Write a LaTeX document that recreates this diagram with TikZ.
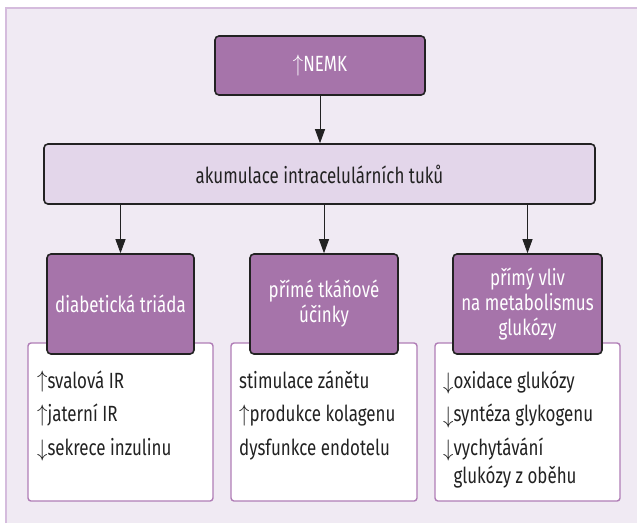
\documentclass[tikz,border=0pt]{standalone}
\usepackage{fontspec}
\setmainfont{Fira Sans}[FakeStretch=0.77]
\usetikzlibrary{arrows.meta}
\definecolor{bgc}{HTML}{F0EAF3}
\definecolor{framec}{HTML}{D5BCDD}
\definecolor{purp}{HTML}{A674AA}
\definecolor{lightp}{HTML}{E3D6EA}
\definecolor{wboxc}{HTML}{B07DB6}
\definecolor{darkc}{HTML}{222222}
\newcommand{\upa}{\raisebox{0.5pt}{\scalebox{1}[1.15]{$\uparrow$}}}
\newcommand{\dna}{\raisebox{-1.5pt}{\scalebox{1}[1.15]{$\downarrow$}}}
\begin{document}
\begin{tikzpicture}[x=1pt,y=-1pt,
  every node/.style={font=\fontsize{22}{25}\selectfont},
  darkbox/.style={draw=darkc,line width=1.6pt,rounded corners=4pt,fill=purp,text=white,align=center,inner sep=0pt},
  lightbox/.style={draw=darkc,line width=1.6pt,rounded corners=4pt,fill=lightp,text=darkc,inner sep=0pt},
  whitebox/.style={draw=wboxc,line width=1.4pt,rounded corners=3pt,fill=white,inner sep=0pt},
  item/.style={anchor=base west,inner sep=0pt,text=darkc},
  arr/.style={draw=darkc,line width=0.9pt,-{Triangle[width=10pt,length=14pt]}}
]
\useasboundingbox (0,0) rectangle (637,523);
\fill[bgc] (6,8) rectangle (637,523);
\draw[framec,line width=1.5pt] (6,523) -- (6,8) -- (637,8);

% top boxes
\node[darkbox,minimum width=210pt,minimum height=59pt] (nemk) at (320,65.5) {\upa NEMK};
\node[lightbox,minimum width=551pt,minimum height=60pt] (akum) at (319.5,174) {akumulace intracelulárních tuků};

% white boxes
\node[whitebox,minimum width=185pt,minimum height=158pt] (w1) at (120.5,422) {};
\node[whitebox,minimum width=186pt,minimum height=158pt] (w2) at (324,422) {};
\node[whitebox,minimum width=185pt,minimum height=158pt] (w3) at (527.5,422) {};

% purple boxes
\node[darkbox,minimum width=147pt,minimum height=100pt] (d1) at (120.5,304) {diabetická triáda};
\node[darkbox,minimum width=148pt,minimum height=100pt] (d2) at (324,304) {přímé tkáňové\\účinky};
\node[darkbox,minimum width=149pt,minimum height=100pt] (d3) at (527.5,304) {přímý vliv\\na metabolismus\\glukózy};

% arrows
\draw[arr] (nemk.south) -- (nemk.south |- akum.north);
\draw[arr] (akum.south -| d1.north) -- (d1.north);
\draw[arr] (akum.south -| d2.north) -- (d2.north);
\draw[arr] (akum.south -| d3.north) -- (d3.north);

% items
\node[item] (a1) at (37,388) {\upa svalová IR};
\node[item] (a2) at (37,421.5) {\upa jaterní IR};
\node[item] (a3) at (37,455) {\dna sekrece inzulinu};

\node[item] (b1) at (239,388) {stimulace zánětu};
\node[item] (b2) at (239,421.5) {\upa produkce kolagenu};
\node[item] (b3) at (239,455) {dysfunkce endotelu};

\node[item] (c1) at (443,388) {\dna oxidace glukózy};
\node[item] (c2) at (443,421.5) {\dna syntéza glykogenu};
\node[item] (c3) at (443,455) {\dna vychytávání};
\node[item] (c4) at (443,483) {\hphantom{\dna}glukózy z oběhu};
\end{tikzpicture}
\end{document}
